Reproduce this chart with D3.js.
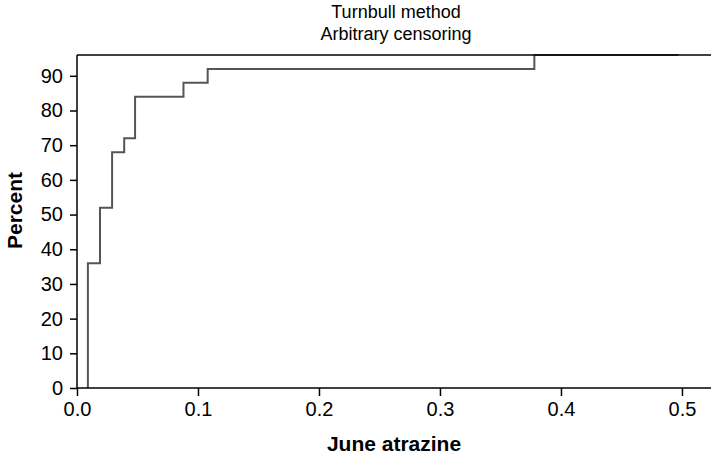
<!DOCTYPE html>
<html>
<head>
<meta charset="utf-8">
<script src="https://cdn.jsdelivr.net/npm/d3@7"></script>
<style>
	body { margin: 0; background: #fff; }
	svg { display: block; font-family: 'Liberation Sans', Arial, sans-serif; }
</style>
</head>
<body>
<svg id="chart"></svg>
<script>
// Turnbull estimate, june atrazine
const atrazine = [0.009, 0.019, 0.029, 0.039, 0.048, 0.088, 0.108, 0.378]
const percent = [36, 52, 68, 72, 84, 88, 92, 96]
const lastX = 0.497
const xTicks = [0, 0.1, 0.2, 0.3, 0.4, 0.5]
const yTicks = [0, 10, 20, 30, 40, 50, 60, 70, 80, 90]
const titleLines = ['Turnbull method', 'Arbitrary censoring']

const svgWidth = 711
const svgHeight = 459
const margin = { top: 55, right: 0, bottom: 71, left: 77 }
const width = svgWidth - margin.left - margin.right
const height = svgHeight - margin.top - margin.bottom

const svg = d3.select('#chart').attr('width', svgWidth).attr('height', svgHeight)
const g = svg.append('g').attr('transform', `translate(${margin.left},${margin.top})`)

const x = d3.scaleLinear().domain([0, 0.524]).range([0, width])
const y = d3.scaleLinear().domain([0, 96]).range([height, 0])

// step points: start from 0 at the first value
const pts = [[atrazine[0], 0]]
atrazine.forEach((d, i) => pts.push([d, percent[i]]))
pts.push([lastX, percent[percent.length - 1]])

const line = d3.line()
	.x((d) => x(d[0]))
	.y((d) => y(d[1]))
	.curve(d3.curveStepAfter)

g.append('path')
	.datum(pts)
	.attr('fill', 'none')
	.attr('stroke', '#555')
	.attr('stroke-width', 2)
	.attr('d', line)

// axes
const xAxis = g.append('g')
	.attr('transform', `translate(0,${height})`)
	.call(d3.axisBottom(x).tickValues(xTicks).tickFormat(d3.format('.1f')).tickSize(8).tickPadding(6))
const yAxis = g.append('g')
	.call(d3.axisLeft(y).tickValues(yTicks).tickSize(7).tickPadding(7))

;[xAxis, yAxis].forEach((a) => {
	a.select('.domain').remove()
	a.selectAll('line').attr('stroke', '#000').attr('stroke-width', 1.5)
	a.selectAll('text').attr('fill', '#000').style('font-size', '20px')
})

// frame: left, top, bottom
g.append('line').attr('x1', 0).attr('x2', 0).attr('y1', 0).attr('y2', height)
	.attr('stroke', '#000').attr('stroke-width', 1.5)
g.append('line').attr('x1', 0).attr('x2', width).attr('y1', 0).attr('y2', 0)
	.attr('stroke', '#000').attr('stroke-width', 1.5)
g.append('line').attr('x1', 0).attr('x2', width).attr('y1', height).attr('y2', height)
	.attr('stroke', '#000').attr('stroke-width', 1.5)

// labels
svg.append('text')
	.attr('x', margin.left + width / 2)
	.attr('y', 451)
	.attr('text-anchor', 'middle')
	.style('font-size', '21px')
	.style('font-weight', 'bold')
	.text('June atrazine')

svg.append('text')
	.attr('transform', `translate(22,${margin.top + height / 2 - 11}) rotate(-90)`)
	.attr('text-anchor', 'middle')
	.style('font-size', '21px')
	.style('font-weight', 'bold')
	.text('Percent')

svg.append('g')
	.selectAll('text')
	.data(titleLines)
	.join('text')
	.attr('x', 396)
	.attr('y', (d, i) => 18 + i * 22)
	.attr('text-anchor', 'middle')
	.style('font-size', '18px')
	.text((d) => d)
</script>
</body>
</html>
